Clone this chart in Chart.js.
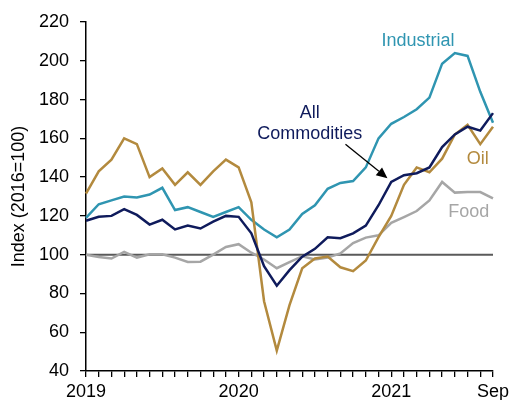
<!DOCTYPE html>
<html>
<head>
<meta charset="utf-8">
<script src="https://cdn.jsdelivr.net/npm/chart.js@4.4.0/dist/chart.umd.min.js"></script>
<style>
  html, body { margin: 0; padding: 0; background: #fff; overflow: hidden; }
  #wrap { position: absolute; left: 0; top: 0; width: 530px; height: 400px; }
</style>
</head>
<body>
<div id="wrap"><canvas id="chart"></canvas></div>
<script>
var months = ['Jan 2019', 'Feb 2019', 'Mar 2019', 'Apr 2019', 'May 2019', 'Jun 2019', 'Jul 2019', 'Aug 2019', 'Sep 2019', 'Oct 2019', 'Nov 2019', 'Dec 2019',
              'Jan 2020', 'Feb 2020', 'Mar 2020', 'Apr 2020', 'May 2020', 'Jun 2020', 'Jul 2020', 'Aug 2020', 'Sep 2020', 'Oct 2020', 'Nov 2020', 'Dec 2020',
              'Jan 2021', 'Feb 2021', 'Mar 2021', 'Apr 2021', 'May 2021', 'Jun 2021', 'Jul 2021', 'Aug 2021', 'Sep 2021'];
var tickText = { 'Jan 2019': '2019', 'Jan 2020': '2020', 'Jan 2021': '2021', 'Sep 2021': 'Sep' };

var allCommodities = [117.5, 119.5, 120, 123.5, 120.5, 115.5, 118, 113, 115, 113.5, 117, 120,
                      119.5, 111, 94, 84, 92, 99, 103, 109, 108.5, 111, 115, 125.5,
                      137.5, 141, 142, 145, 155.5, 162, 166, 164, 173];
var industrial = [119, 126, 128, 130, 129.5, 131, 134.5, 123, 124.5, 122, 119.5, 122,
                  124.5, 118, 113, 109, 113, 121, 125.5, 134, 137, 138, 145, 160,
                  167.5, 171, 175, 181, 198.5, 204, 202.5, 184, 168];
var oil = [131.5, 143, 149, 160, 157, 140, 144.5, 136, 142.5, 136, 143, 149,
           145, 127, 76, 50.5, 74, 93, 98, 99, 93.5, 91.5, 97, 109,
           120, 136, 145, 142.5, 149.5, 162, 167, 157, 166];
var food = [100, 98.8, 98, 101.4, 98.5, 100.2, 100.2, 98.5, 96.2, 96.4, 100, 104,
            105.4, 101, 97.5, 93, 96.2, 99.2, 97.5, 98.5, 100.6, 106, 108.8, 110,
            116.4, 119.4, 122.5, 128, 137.5, 132, 132.3, 132.3, 129];

var baseLevel = 100;

var navy = '#0f1b5c';
var teal = '#2f95b1';
var gold = '#b38a3e';
var grey = '#a6a6a6';

// text labels placed in data units (month index, index value)
var notes = [
    { text: 'Industrial', x: 26.1, y: 210, color: teal },
    { text: 'All', x: 17.6, y: 173, color: navy },
    { text: 'Commodities', x: 17.6, y: 162, color: navy },
    { text: 'Oil', x: 30.8, y: 149.5, color: gold },
    { text: 'Food', x: 30.1, y: 122, color: grey }
];
var arrowFrom = { x: 20.4, y: 157 };
var arrowTo = { x: 23.7, y: 139.4 };

Chart.defaults.font.family = '"Liberation Sans", Arial, sans-serif';
Chart.defaults.font.size = 18;
Chart.defaults.color = '#000';

var extras = {
    id: 'extras',
    beforeDatasetsDraw: function(chart) {
        var ctx = chart.ctx;
        var x = chart.scales.x, y = chart.scales.y;
        var yy = y.getPixelForValue(baseLevel);
        ctx.save();
        ctx.strokeStyle = '#5a5a5a';
        ctx.lineWidth = 2;
        ctx.beginPath();
        ctx.moveTo(chart.chartArea.left, yy);
        ctx.lineTo(chart.chartArea.right, yy);
        ctx.stroke();
        ctx.restore();
    },
    afterDatasetsDraw: function(chart) {
        var ctx = chart.ctx;
        var x = chart.scales.x, y = chart.scales.y;
        ctx.save();
        ctx.font = '18px "Liberation Sans", Arial, sans-serif';
        ctx.textAlign = 'center';
        ctx.textBaseline = 'middle';
        notes.forEach(function(n) {
            ctx.fillStyle = n.color;
            ctx.fillText(n.text, x.getPixelForValue(n.x), y.getPixelForValue(n.y));
        });

        // arrow pointing at the All Commodities line
        var x1 = x.getPixelForValue(arrowFrom.x), y1 = y.getPixelForValue(arrowFrom.y);
        var x2 = x.getPixelForValue(arrowTo.x), y2 = y.getPixelForValue(arrowTo.y);
        var ang = Math.atan2(y2 - y1, x2 - x1);
        var headLen = 11, headW = 5;
        ctx.strokeStyle = '#000';
        ctx.fillStyle = '#000';
        ctx.lineWidth = 1.3;
        ctx.beginPath();
        ctx.moveTo(x1, y1);
        ctx.lineTo(x2 - headLen * Math.cos(ang), y2 - headLen * Math.sin(ang));
        ctx.stroke();
        ctx.beginPath();
        ctx.moveTo(x2, y2);
        ctx.lineTo(x2 - headLen * Math.cos(ang) + headW * Math.sin(ang), y2 - headLen * Math.sin(ang) - headW * Math.cos(ang));
        ctx.lineTo(x2 - headLen * Math.cos(ang) - headW * Math.sin(ang), y2 - headLen * Math.sin(ang) + headW * Math.cos(ang));
        ctx.closePath();
        ctx.fill();
        ctx.restore();
    }
};

function series(label, data, color) {
    return {
        label: label,
        data: data,
        borderColor: color,
        backgroundColor: color,
        borderWidth: 2.5,
        pointRadius: 0,
        tension: 0,
        fill: false
    };
}

var ctx = document.getElementById('chart').getContext('2d');
var chart = new Chart(ctx, {
    type: 'line',
    data: {
        labels: months,
        datasets: [
            series('All Commodities', allCommodities, navy),
            series('Oil', oil, gold),
            series('Industrial', industrial, teal),
            series('Food', food, grey)
        ]
    },
    options: {
        responsive: true,
        maintainAspectRatio: false,
        animation: false,
        layout: { padding: { left: 0, top: 22, right: 37, bottom: 0 } },
        plugins: {
            legend: { display: false },
            tooltip: { enabled: false }
        },
        scales: {
            x: {
                type: 'category',
                offset: false,
                grid: { display: true, drawOnChartArea: false, drawTicks: true, tickLength: 6, color: '#000', lineWidth: 1.3 },
                border: { display: true, color: '#000', width: 1.5 },
                ticks: {
                    autoSkip: false,
                    maxRotation: 0,
                    minRotation: 0,
                    padding: 4,
                    color: '#000',
                    callback: function(v, i) { return tickText[months[i]] || ''; }
                },
                afterFit: function(s) { s.height = 29; }
            },
            y: {
                min: 40,
                max: 220,
                grid: { display: true, drawOnChartArea: false, drawTicks: true, tickLength: 6, color: '#000', lineWidth: 1.3 },
                border: { display: true, color: '#000', width: 1.5 },
                ticks: { stepSize: 20, padding: 11, color: '#000' },
                title: { display: true, text: 'Index (2016=100)', color: '#000', padding: { top: 8, bottom: 0 } },
                afterFit: function(s) { s.width = 86; }
            }
        }
    },
    plugins: [extras]
});
</script>
</body>
</html>
